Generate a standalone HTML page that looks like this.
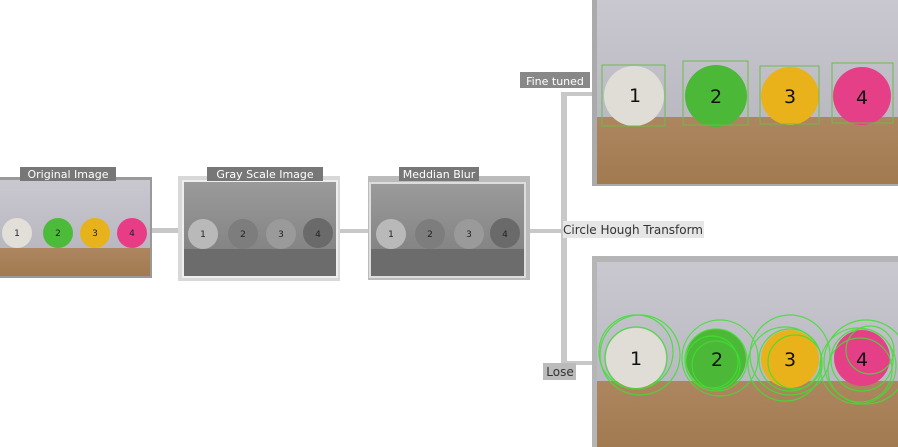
<!DOCTYPE html>
<html><head><meta charset="utf-8"><style>
html,body{margin:0;padding:0;background:#fff;width:898px;height:447px;overflow:hidden}
svg{display:block}
text{font-family:"DejaVu Sans","Liberation Sans",sans-serif}
</style></head><body>
<svg width="898" height="447" viewBox="0 0 898 447">
<defs>
<linearGradient id="wall" x1="0" y1="0" x2="0" y2="1"><stop offset="0" stop-color="#c9c8d0"/><stop offset="1" stop-color="#b2b1ba"/></linearGradient>
<linearGradient id="wood" x1="0" y1="0" x2="0" y2="1"><stop offset="0" stop-color="#ad8660"/><stop offset="1" stop-color="#a27a50"/></linearGradient>
<linearGradient id="gwall" x1="0" y1="0" x2="0" y2="1"><stop offset="0" stop-color="#9a9a9a"/><stop offset="1" stop-color="#7c7c7c"/></linearGradient>
</defs>

<g fill="#c8c8c8">
<rect x="151" y="228" width="33" height="5"/>
<rect x="337" y="229" width="32" height="4"/>
<rect x="525" y="229" width="40" height="4"/>
<rect x="561" y="94" width="6" height="270"/>
<rect x="561" y="92" width="33" height="4"/>
<rect x="561" y="361" width="33" height="4"/>
</g>

<g>
<rect x="0" y="177" width="152" height="101" fill="#999"/>
<rect x="0" y="180" width="150" height="96" fill="url(#wall)"/>
<rect x="0" y="248" width="150" height="28" fill="url(#wood)"/>
<circle cx="17" cy="233" r="15" fill="#e2dfd8"/>
<circle cx="58" cy="233" r="15" fill="#4cbb3a"/>
<circle cx="95" cy="233" r="15" fill="#e8b21c"/>
<circle cx="132" cy="233" r="15" fill="#e83d86"/>
<g font-size="9" fill="#222" text-anchor="middle"><text x="17" y="236">1</text><text x="58" y="236">2</text><text x="95" y="236">3</text><text x="132" y="236">4</text></g>
</g>
<rect x="20" y="167" width="96" height="14" fill="#777"/>
<text x="68" y="178" font-size="11" fill="#fff" text-anchor="middle">Original Image</text>

<g>
<rect x="178" y="176" width="162" height="105" fill="#d8d8d8"/>
<rect x="182" y="180" width="156" height="98" fill="#eee"/>
<rect x="184" y="182" width="152" height="94" fill="url(#gwall)"/>
<rect x="184" y="249" width="152" height="27" fill="#6c6c6c"/>
<circle cx="203" cy="234" r="15" fill="#b9b9b9"/>
<circle cx="243" cy="234" r="15" fill="#7d7d7d"/>
<circle cx="281" cy="234" r="15" fill="#9a9a9a"/>
<circle cx="318" cy="233" r="15" fill="#6a6a6a"/>
<g font-size="9" fill="#222" text-anchor="middle"><text x="203" y="237">1</text><text x="243" y="237">2</text><text x="281" y="237">3</text><text x="318" y="237">4</text></g>
</g>
<rect x="207" y="167" width="116" height="14" fill="#777"/>
<text x="265" y="178" font-size="11" fill="#fff" text-anchor="middle">Gray Scale Image</text>

<g>
<rect x="368" y="176" width="162" height="104" fill="#bbb"/>
<rect x="369" y="182" width="157" height="96" fill="#ddd"/>
<rect x="371" y="184" width="153" height="92" fill="url(#gwall)"/>
<rect x="371" y="249" width="153" height="27" fill="#6c6c6c"/>
<circle cx="391" cy="234" r="15" fill="#b9b9b9"/>
<circle cx="430" cy="234" r="15" fill="#7d7d7d"/>
<circle cx="469" cy="234" r="15" fill="#9a9a9a"/>
<circle cx="505" cy="233" r="15" fill="#6a6a6a"/>
<g font-size="9" fill="#222" text-anchor="middle"><text x="391" y="237">1</text><text x="430" y="237">2</text><text x="469" y="237">3</text><text x="505" y="237">4</text></g>
</g>
<rect x="399" y="167" width="80" height="14" fill="#777"/>
<text x="439" y="178" font-size="11" fill="#fff" text-anchor="middle">Meddian Blur</text>

<rect x="563" y="221" width="141" height="17" fill="#e6e6e6"/>
<text x="563" y="234" font-size="12" fill="#333" textLength="140">Circle Hough Transform</text>

<g>
<rect x="592" y="0" width="306" height="186" fill="#aaa"/>
<rect x="597" y="0" width="301" height="184" fill="url(#wall)"/>
<rect x="597" y="117" width="301" height="67" fill="url(#wood)"/>
<circle cx="634" cy="96" r="30" fill="#e0ddd6"/>
<circle cx="716" cy="96" r="31" fill="#4cb838"/>
<circle cx="790" cy="96" r="29" fill="#e9b11a"/>
<circle cx="862" cy="96" r="29" fill="#e53f88"/>
<g fill="none" stroke="#6dbb4b" stroke-width="1">
<rect x="602" y="65" width="63" height="61"/><rect x="683" y="61" width="65" height="64"/><rect x="760" y="66" width="59" height="58"/><rect x="832" y="63" width="61" height="60"/>
</g>
<g font-size="19" fill="#111" text-anchor="middle"><text x="635" y="102">1</text><text x="716" y="103">2</text><text x="790" y="103">3</text><text x="862" y="104">4</text></g>
</g>
<rect x="520" y="72" width="70" height="16" fill="#888"/>
<text x="555" y="85" font-size="11" fill="#fff" text-anchor="middle">Fine tuned</text>

<g>
<rect x="592" y="256" width="306" height="191" fill="#b5b5b5"/>
<rect x="597" y="262" width="301" height="185" fill="url(#wall)"/>
<rect x="597" y="381" width="301" height="66" fill="url(#wood)"/>
<circle cx="636" cy="358" r="30" fill="#e0ddd6"/>
<circle cx="716" cy="359" r="30" fill="#4cb838"/>
<circle cx="790" cy="359" r="29" fill="#e9b11a"/>
<circle cx="862" cy="358" r="28" fill="#e53f88"/>
<g fill="none" stroke="#3ee030" stroke-width="1.2" opacity="0.85">
<circle cx="636" cy="358" r="31"/><circle cx="636" cy="352" r="37"/><circle cx="640" cy="355" r="40"/>
<circle cx="716" cy="360" r="31"/><circle cx="712" cy="362" r="26"/><circle cx="720" cy="358" r="38"/><circle cx="716" cy="365" r="24"/>
<circle cx="790" cy="360" r="31"/><circle cx="785" cy="364" r="37"/><circle cx="795" cy="362" r="27"/><circle cx="790" cy="355" r="40"/>
<circle cx="862" cy="360" r="31"/><circle cx="858" cy="366" r="38"/><circle cx="866" cy="362" r="42"/><circle cx="870" cy="350" r="24"/><circle cx="860" cy="370" r="32"/>
</g>
<g font-size="19" fill="#111" text-anchor="middle"><text x="636" y="365">1</text><text x="717" y="366">2</text><text x="790" y="366">3</text><text x="862" y="366">4</text></g>
</g>
<rect x="543" y="363" width="33" height="17" fill="#bbb"/>
<text x="560" y="376" font-size="12" fill="#333" text-anchor="middle">Lose</text>
</svg>
</body></html>
